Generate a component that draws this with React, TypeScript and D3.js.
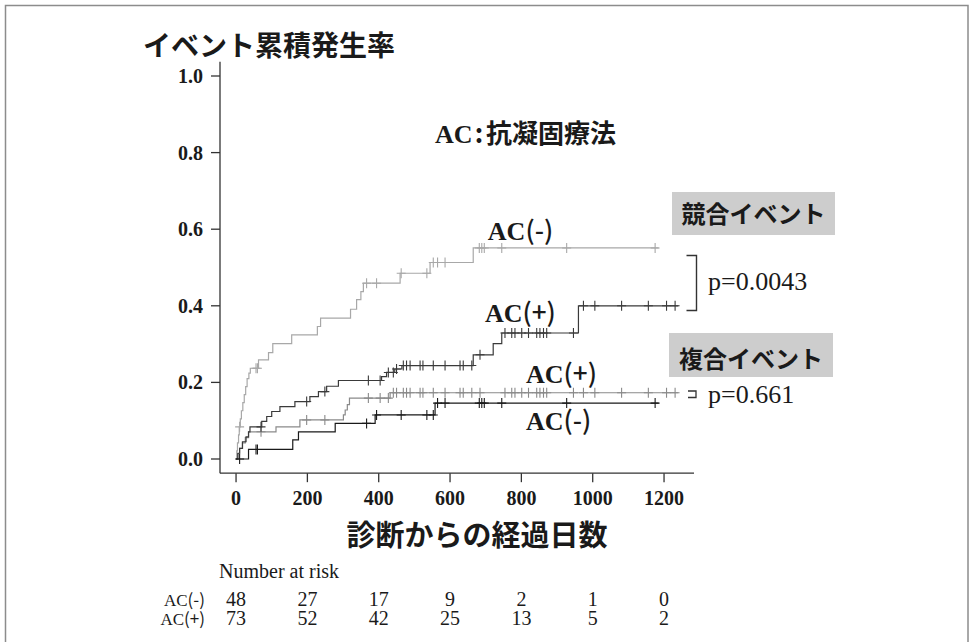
import React from 'react';
import * as d3 from 'd3';

const W = 974;
const H = 642;

const xTicks = [0, 200, 400, 600, 800, 1000, 1200];
const yTicks = [0, 0.2, 0.4, 0.6, 0.8, 1.0];

// Competing event, AC(-)
const compMinusTimes = [0, 2, 4, 7, 9, 12, 15, 19, 23, 27, 31, 36, 40, 63, 91, 103, 156, 228, 237, 321, 338, 350, 357, 460, 544, 665];
const compMinusVals = [0, 0.021, 0.042, 0.063, 0.084, 0.105, 0.126, 0.147, 0.168, 0.189, 0.21, 0.224, 0.237, 0.259, 0.278, 0.301, 0.324, 0.346, 0.368, 0.391, 0.416, 0.437, 0.459, 0.485, 0.513, 0.551];
// Competing event, AC(+)
const compPlusTimes = [0, 5, 10, 18, 28, 35, 39, 72, 86, 100, 123, 165, 207, 231, 254, 287, 408, 422, 445, 465, 665, 721, 745, 960];
const compPlusVals = [0, 0.015, 0.028, 0.045, 0.058, 0.071, 0.084, 0.098, 0.111, 0.124, 0.137, 0.15, 0.163, 0.176, 0.19, 0.205, 0.215, 0.226, 0.235, 0.244, 0.272, 0.301, 0.329, 0.4];
// Composite event, AC(+)
const compoPlusTimes = [0, 5, 10, 18, 26, 35, 112, 179, 301, 306, 312, 318, 432];
const compoPlusVals = [0, 0.014, 0.028, 0.042, 0.056, 0.071, 0.084, 0.102, 0.115, 0.128, 0.142, 0.159, 0.173];
// Composite event, AC(-)
const compoMinusTimes = [0, 35, 159, 175, 278, 390, 558];
const compoMinusVals = [0, 0.025, 0.05, 0.071, 0.093, 0.115, 0.146];

const censorMinus = [10, 56, 60, 366, 394, 463, 535, 553, 565, 586, 682, 689, 696, 745, 927, 1175];
const censorPlus = [70, 198, 249, 371, 404, 427, 441, 450, 469, 478, 488, 516, 524, 553, 586, 628, 637, 661, 684, 754, 773, 782, 801, 820, 843, 852, 862, 871, 946, 974, 1006, 1081, 1156, 1207, 1231];
const endMinus = 1185;
const endPlus = 1240;

const riskTimes = [0, 200, 400, 600, 800, 1000, 1200];
const riskMinus = [48, 27, 17, 9, 2, 1, 0];
const riskPlus = [73, 52, 42, 25, 13, 5, 2];

const SERIF = "'Liberation Serif', 'Times New Roman', serif";
const CJK = "'Noto Sans CJK JP', 'Noto Sans CJK SC', sans-serif";

const x = d3.scaleLinear().domain([-45, 1284]).range([220, 694]);
const y = d3.scaleLinear().domain([0, 1]).range([459, 76]);

type Curve = { times: number[]; vals: number[]; end: number; censor: number[]; color: string };

const curves: Curve[] = [
  { times: compMinusTimes, vals: compMinusVals, end: endMinus, censor: censorMinus, color: '#a8a8a8' },
  { times: compoPlusTimes, vals: compoPlusVals, end: endPlus, censor: censorPlus, color: '#8a8a8a' },
  { times: compPlusTimes, vals: compPlusVals, end: endPlus, censor: censorPlus, color: '#3a3a3a' },
  { times: compoMinusTimes, vals: compoMinusVals, end: endMinus, censor: censorMinus, color: '#1a1a1a' },
];

const line = d3.line<[number, number]>().x(d => x(d[0])).y(d => y(d[1])).curve(d3.curveStepAfter);

function valueAt(c: Curve, t: number) {
  const i = d3.bisectRight(c.times, t) - 1;
  return c.vals[Math.max(0, i)];
}

export default function App() {
  const labels = [
    { t: 706, v: 0.572, sign: '(-)' },
    { t: 698, v: 0.358, sign: '(+)' },
    { t: 813, v: 0.198, sign: '(+)' },
    { t: 813, v: 0.076, sign: '(-)' },
  ];
  const x0 = x.range()[0];
  const yb = y(-0.037);
  return (
    <svg width={W} height={H} style={{ position: 'absolute', left: 0, top: 0, background: '#fff' }}>
      <rect x={5.5} y={5.5} width={962.5} height={660} fill="none" stroke="#8c8c8c" strokeWidth={1.5} />

      {/* title */}
      <text x={143} y={56} fontFamily={CJK} fontWeight={700} fontSize={28} fill="#1a1a1a">イベント累積発生率</text>

      {/* y axis */}
      <line x1={x0} x2={x0} y1={y(1.037)} y2={yb} stroke="#333" strokeWidth={1.3} />
      {yTicks.map(t => (
        <g key={t}>
          <line x1={x0 - 9} x2={x0} y1={y(t)} y2={y(t)} stroke="#333" strokeWidth={1.3} />
          <text x={x0 - 17} y={y(t) + 7} textAnchor="end" fontFamily={SERIF} fontWeight={700} fontSize={20} fill="#1a1a1a">{t.toFixed(1)}</text>
        </g>
      ))}

      {/* x axis */}
      <line x1={x0} x2={x.range()[1]} y1={yb} y2={yb} stroke="#333" strokeWidth={1.3} />
      {xTicks.map(t => (
        <g key={t}>
          <line x1={x(t)} x2={x(t)} y1={yb} y2={yb + 9} stroke="#333" strokeWidth={1.3} />
          <text x={x(t)} y={505} textAnchor="middle" fontFamily={SERIF} fontWeight={700} fontSize={20} fill="#1a1a1a">{t}</text>
        </g>
      ))}
      <text x={477} y={546} textAnchor="middle" fontFamily={CJK} fontWeight={700} fontSize={29} fill="#1a1a1a">診断からの経過日数</text>

      {/* curves */}
      {curves.map((c, i) => {
        const pts: [number, number][] = c.times.map((t, j) => [t, c.vals[j]] as [number, number]);
        pts.push([c.end, c.vals[c.vals.length - 1]]);
        return (
          <g key={i}>
            <path d={line(pts) || ''} fill="none" stroke={c.color} strokeWidth={1.2} />
            {c.censor.map((t, j) => {
              const cx = x(t);
              const cy = y(valueAt(c, t));
              return (
                <path key={j} d={`M${cx - 4.5},${cy}H${cx + 4.5}M${cx},${cy - 5}V${cy + 5}`} stroke={c.color} strokeWidth={1.1} />
              );
            })}
          </g>
        );
      })}

      {/* annotation labels */}
      <text x={x(558)} y={y(0.825)} fontSize={26} fill="#1a1a1a">
        <tspan fontFamily={SERIF} fontWeight={700}>AC</tspan>
        <tspan fontFamily={CJK} fontWeight={700} dx={2}>:</tspan>
        <tspan fontFamily={CJK} fontWeight={700} dx={3}>抗凝固療法</tspan>
      </text>
      {labels.map((l, i) => (
        <text key={i} x={x(l.t)} y={y(l.v)} fontSize={26} fill="#1a1a1a">
          <tspan fontFamily={SERIF} fontWeight={700}>AC</tspan>
          <tspan fontFamily={CJK} fontWeight={500}>{l.sign}</tspan>
        </text>
      ))}

      {/* legend boxes */}
      <rect x={672} y={192} width={163} height={43} fill="#cdcdcd" />
      <text x={753.5} y={223} textAnchor="middle" fontFamily={CJK} fontWeight={700} fontSize={24} fill="#1a1a1a">競合イベント</text>
      <rect x={669} y={333} width={164} height={44} fill="#cdcdcd" />
      <text x={751} y={368} textAnchor="middle" fontFamily={CJK} fontWeight={700} fontSize={24} fill="#1a1a1a">複合イベント</text>

      {/* p-values */}
      <path d="M686.5,255.5H696.5V310.5H686.5" fill="none" stroke="#333" strokeWidth={1.4} />
      <text x={708} y={290} fontFamily={SERIF} fontSize={26} fill="#1a1a1a">p=0.0043</text>
      <path d="M688,391H696V397.5H688" fill="none" stroke="#333" strokeWidth={1.3} />
      <text x={708} y={403} fontFamily={SERIF} fontSize={26} fill="#1a1a1a">p=0.661</text>

      {/* number at risk */}
      <text x={219} y={578} fontFamily={SERIF} fontSize={20} fill="#1a1a1a">Number at risk</text>
      <text x={205} y={606} textAnchor="end" fontSize={17} fill="#1a1a1a">
        <tspan fontFamily={SERIF}>AC</tspan><tspan fontFamily={CJK}>(-)</tspan>
      </text>
      <text x={205} y={625} textAnchor="end" fontSize={17} fill="#1a1a1a">
        <tspan fontFamily={SERIF}>AC</tspan><tspan fontFamily={CJK}>(+)</tspan>
      </text>
      {riskTimes.map((t, i) => (
        <g key={t}>
          <text x={x(t)} y={606} textAnchor="middle" fontFamily={SERIF} fontSize={20} fill="#1a1a1a">{riskMinus[i]}</text>
          <text x={x(t)} y={625} textAnchor="middle" fontFamily={SERIF} fontSize={20} fill="#1a1a1a">{riskPlus[i]}</text>
        </g>
      ))}
    </svg>
  );
}
